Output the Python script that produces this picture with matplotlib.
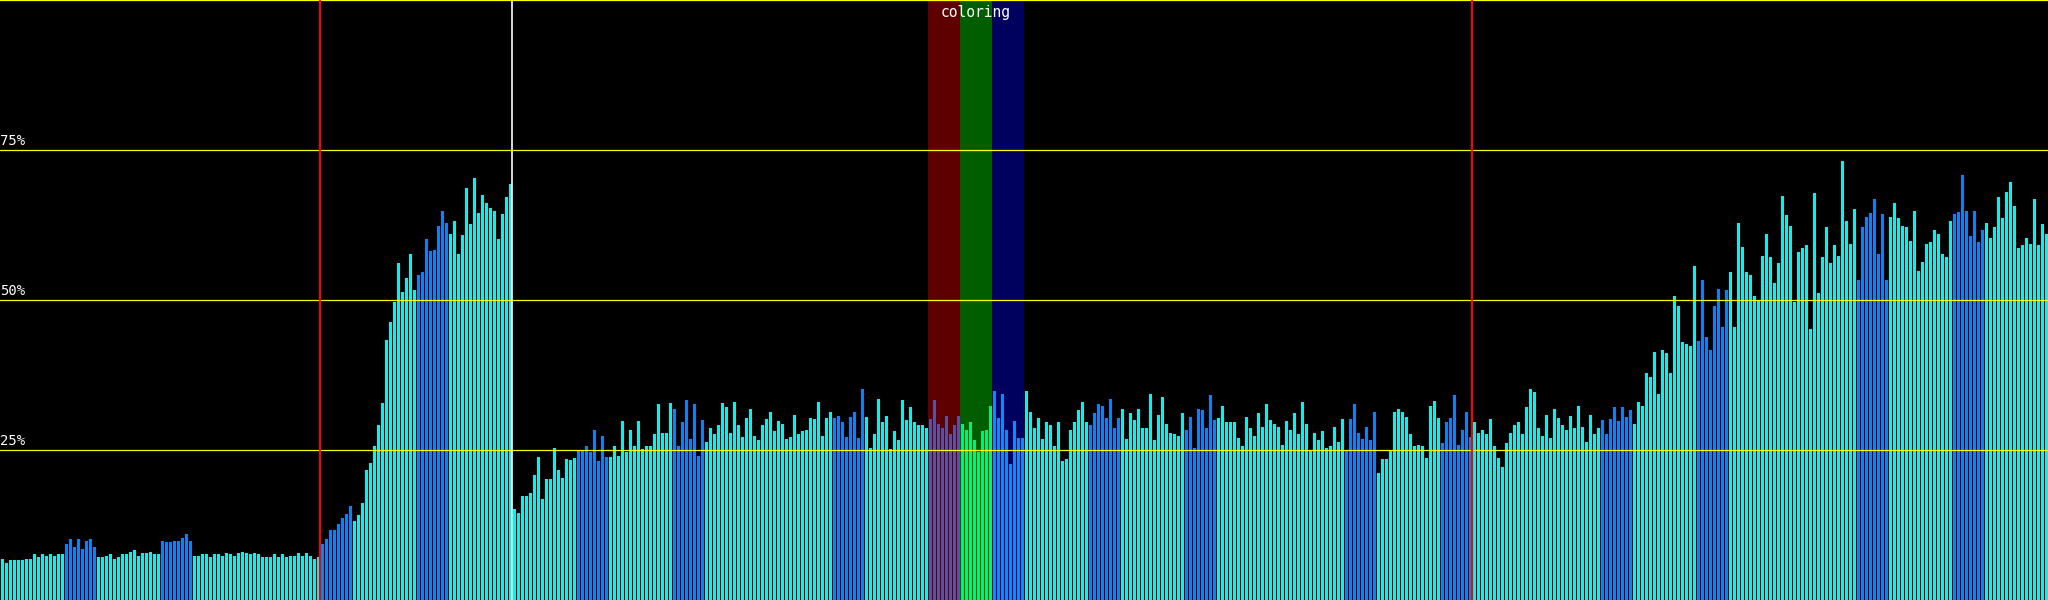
import numpy as np
import matplotlib
matplotlib.use('Agg')
import matplotlib.pyplot as plt

# bar heights in percent, one per bin (512 bins)
values = [
    6.8, 6.25, 6.6, 6.6, 6.6, 6.6, 6.9, 6.8, 7.6, 7.2, 7.6, 7.4, 7.7, 7.4, 7.6, 7.7,
    9.4, 10.2, 8.9, 10.2, 8.5, 9.9, 10.2, 8.9, 7.2, 7.2, 7.4, 7.7, 6.9, 7.2, 7.6, 7.6,
    8.0, 8.4, 7.4, 7.9, 7.9, 8.0, 7.6, 7.7, 9.8, 9.6, 9.6, 9.8, 9.8, 10.4, 11.0, 9.9,
    7.4, 7.4, 7.6, 7.6, 7.1, 7.6, 7.7, 7.4, 7.9, 7.7, 7.4, 7.9, 8.0, 7.9, 7.6, 7.9,
    7.6, 7.2, 7.1, 7.1, 7.6, 7.2, 7.7, 7.1, 7.4, 7.4, 7.9, 7.4, 7.9, 7.4, 6.9, 7.1,
    9.4, 10.1, 11.7, 11.7, 12.7, 13.7, 14.4, 15.6, 13.1, 14.2, 16.1, 21.6, 22.9, 25.6, 29.1, 32.9,
    43.4, 46.4, 49.7, 56.1, 51.4, 53.7, 57.7, 51.7, 54.1, 54.7, 60.1, 58.2, 58.4, 62.4, 64.9, 62.8,
    61.0, 63.1, 57.6, 60.9, 68.6, 62.6, 70.4, 64.5, 67.5, 66.2, 65.4, 64.9, 60.2, 64.4, 67.2, 69.3,
    15.1, 14.5, 17.4, 17.4, 17.9, 20.9, 23.9, 16.9, 20.1, 20.2, 25.3, 21.6, 20.4, 23.5, 23.4, 23.7,
    24.9, 24.9, 25.7, 24.6, 28.4, 23.2, 27.4, 23.9, 23.9, 25.6, 24.0, 29.9, 24.7, 28.3, 25.6, 29.9,
    25.1, 25.7, 25.7, 27.7, 32.7, 27.9, 27.9, 32.9, 31.8, 25.7, 29.6, 33.4, 26.9, 32.6, 24.0, 30.0,
    26.4, 28.6, 27.7, 29.1, 32.9, 32.2, 27.9, 33.0, 29.2, 27.2, 30.4, 31.8, 27.4, 26.7, 29.2, 30.2,
    31.3, 28.1, 29.9, 29.4, 26.9, 27.2, 30.9, 27.6, 28.1, 28.4, 30.4, 30.2, 33.0, 27.4, 30.4, 31.4,
    30.4, 30.7, 29.7, 27.2, 30.5, 31.4, 27.0, 35.2, 30.5, 25.4, 27.7, 33.5, 29.6, 30.7, 25.1, 28.1,
    26.7, 33.4, 30.0, 32.2, 29.7, 29.2, 29.2, 28.7, 30.2, 33.4, 29.4, 28.7, 30.7, 27.6, 29.1, 30.7,
    29.4, 28.4, 29.7, 26.6, 24.6, 28.1, 28.3, 32.4, 34.9, 30.4, 34.4, 28.4, 22.6, 29.9, 27.0, 27.0,
    34.9, 31.3, 28.6, 30.4, 26.9, 29.6, 29.2, 25.6, 29.6, 23.2, 23.5, 28.4, 29.7, 31.6, 33.0, 29.6,
    29.1, 31.1, 32.6, 32.4, 30.4, 33.5, 28.6, 30.4, 31.9, 26.9, 31.1, 30.0, 31.9, 28.6, 28.7, 34.4,
    26.6, 30.9, 33.9, 29.4, 27.9, 27.7, 27.4, 31.1, 28.4, 30.5, 25.4, 31.9, 31.6, 28.6, 34.2, 30.0,
    30.4, 32.4, 29.6, 29.7, 29.6, 27.0, 25.7, 30.5, 28.7, 27.4, 31.1, 28.9, 32.6, 30.0, 29.4, 28.9,
    25.9, 29.9, 28.4, 31.1, 27.7, 33.0, 29.4, 25.0, 27.9, 26.6, 28.1, 25.4, 25.6, 28.9, 26.4, 30.2,
    25.0, 30.2, 32.7, 27.9, 26.9, 28.9, 26.7, 31.3, 21.2, 23.5, 23.5, 24.9, 31.3, 31.8, 31.3, 30.5,
    27.6, 25.7, 25.9, 25.7, 23.7, 32.4, 33.2, 30.4, 26.2, 29.7, 30.4, 34.1, 25.9, 28.4, 31.3, 27.2,
    29.6, 27.9, 28.4, 27.6, 30.2, 25.6, 23.7, 22.1, 26.1, 27.9, 29.2, 29.6, 27.7, 32.2, 35.1, 34.6,
    28.7, 27.4, 30.9, 27.0, 31.8, 30.4, 29.1, 28.3, 30.7, 28.7, 32.4, 28.9, 26.4, 30.9, 27.7, 28.6,
    30.0, 27.7, 30.2, 32.2, 29.9, 32.1, 30.5, 31.6, 29.4, 33.0, 32.4, 37.8, 37.2, 41.4, 34.4, 41.6,
    41.1, 37.9, 50.6, 49.0, 43.0, 42.7, 42.4, 55.7, 43.2, 53.3, 43.9, 41.6, 49.0, 51.9, 45.5, 51.7,
    54.7, 45.5, 62.9, 58.9, 54.6, 54.2, 50.7, 50.0, 57.4, 61.0, 57.2, 52.9, 56.1, 67.4, 64.1, 62.4,
    49.6, 58.0, 58.7, 59.1, 45.1, 67.9, 51.1, 57.2, 62.2, 56.1, 59.2, 57.4, 73.2, 63.2, 59.4, 65.1,
    53.3, 62.1, 63.9, 64.5, 66.9, 57.6, 64.4, 53.3, 63.9, 66.1, 63.6, 62.4, 62.1, 59.8, 64.9, 54.9,
    56.3, 59.4, 59.6, 61.7, 61.0, 57.6, 57.2, 63.2, 64.4, 64.7, 70.9, 64.9, 60.7, 64.9, 59.6, 61.7,
    62.9, 60.4, 62.1, 67.1, 63.7, 68.0, 69.7, 65.6, 58.7, 59.1, 60.4, 59.4, 66.9, 59.1, 62.6, 61.0,
]

# first bin of each 8-bin block drawn in dark blue
blue_starts = [16, 40, 80, 104, 144, 168, 208, 272, 296, 336, 360, 400, 424, 464, 488]
group_len = 8

# "coloring" bands: start bin, background, bar colour
band_starts = [232, 240, 248]
band_bg = ['#5e0000', '#005e00', '#00005e']
band_bar = ['#5a50a2', '#00f07c', '#0a8cf8']

red_marks = [80, 368]
white_marks = [128]
grid_levels = [25, 50, 75]
grid_labels = ['25%', '50%', '75%']

n = len(values)
x = np.arange(n)
colors = ['#10eeee'] * n
for s in blue_starts:
    for i in range(s, s + group_len):
        colors[i] = '#0a84f0'
for s, c in zip(band_starts, band_bar):
    for i in range(s, s + group_len):
        colors[i] = c

fig = plt.figure(figsize=(20.48, 6), dpi=100, facecolor='black')
ax = fig.add_axes([0, 0, 1, 1])
ax.set_facecolor('black')
ax.set_xlim(-0.625, n - 0.625)
ax.set_ylim(0, 100)
ax.axis('off')

for s, c in zip(band_starts, band_bg):
    ax.axvspan(s - 0.625, s + group_len - 0.625, color=c, lw=0, zorder=0)

ax.bar(x, values, width=0.75, color=colors, linewidth=0, zorder=2)

for lvl, lab in zip(grid_levels, grid_labels):
    ax.axhline(lvl, color='#ffff00', lw=0.9, zorder=3)
    ax.text(-0.6, lvl + 0.3, lab, color='white', fontsize=10,
            family='DejaVu Sans Mono', ha='left', va='bottom', zorder=4)
ax.axhline(99.92, color='#ffff00', lw=0.9, zorder=3)

for m in red_marks:
    ax.axvline(m - 0.625, color='#ff0000', lw=1.5, zorder=3)
for m in white_marks:
    ax.axvline(m - 0.625, color='white', lw=1.2, zorder=3)

ax.text(band_starts[1] + 3.3, 99.2, 'coloring', color='white', fontsize=10.5,
        family='DejaVu Sans Mono', ha='center', va='top', zorder=4)

fig.savefig('out.png', dpi=100, facecolor='black')
